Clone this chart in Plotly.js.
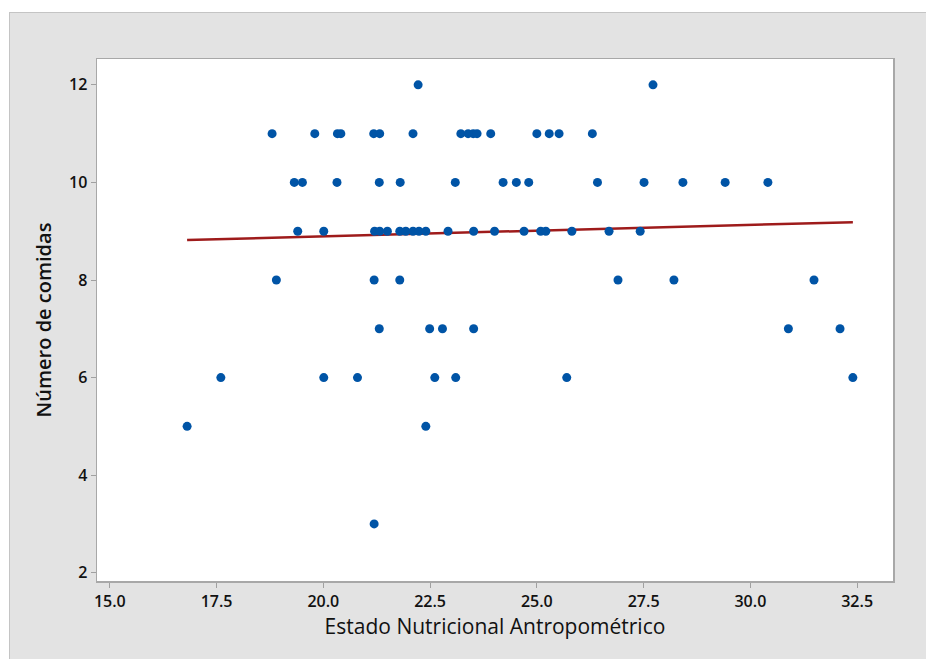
<!DOCTYPE html>
<html>
<head>
<meta charset="utf-8">
<script src="https://cdn.plot.ly/plotly-3.0.1.min.js"></script>
<style>
html,body{margin:0;padding:0;background:#ffffff;width:926px;height:659px;overflow:hidden;}
#frame{position:absolute;left:9px;top:12px;width:917px;height:647px;background:#e3e3e3;border-left:1px solid #c4c4c4;border-top:1px solid #c4c4c4;box-sizing:border-box;}
#chart{position:absolute;left:10px;top:13px;width:916px;height:646px;}
</style>
</head>
<body>
<div id="frame"></div>
<div id="chart"></div>
<script>
// Estado Nutricional Antropométrico (x) and Número de comidas (y)
const xVals = [
  21.19,
  16.81, 22.40,
  17.60, 20.01, 20.80, 22.61, 23.10, 25.70, 32.40,
  21.31, 22.49, 22.79, 23.52, 30.89, 32.10,
  18.90, 21.19, 21.79, 26.90, 28.21, 31.49,
  19.40, 20.01, 21.20, 21.32, 21.50, 21.79, 21.93, 22.10, 22.24, 22.40, 22.92, 23.52, 24.01, 24.70, 25.09, 25.21, 25.82, 26.69, 27.42,
  19.32, 19.51, 20.32, 21.31, 21.80, 23.09, 24.21, 24.52, 24.81, 26.42, 27.51, 28.42, 29.41, 30.41,
  18.80, 19.80, 20.33, 20.41, 21.18, 21.32, 22.10, 23.22, 23.39, 23.51, 23.60, 23.92, 25.00, 25.29, 25.52, 26.30,
  22.22, 27.72
];
const yVals = [
  3,
  5, 5,
  6, 6, 6, 6, 6, 6, 6,
  7, 7, 7, 7, 7, 7,
  8, 8, 8, 8, 8, 8,
  9, 9, 9, 9, 9, 9, 9, 9, 9, 9, 9, 9, 9, 9, 9, 9, 9, 9, 9,
  10, 10, 10, 10, 10, 10, 10, 10, 10, 10, 10, 10, 10, 10,
  11, 11, 11, 11, 11, 11, 11, 11, 11, 11, 11, 11, 11, 11, 11, 11,
  12, 12
];
// Fitted regression line
const fitX = [16.81, 32.40];
const fitY = [8.82, 9.185];

const xTickVals = [15.0, 17.5, 20.0, 22.5, 25.0, 27.5, 30.0, 32.5];
const xTickText = ['15.0', '17.5', '20.0', '22.5', '25.0', '27.5', '30.0', '32.5'];
const yTickVals = [2, 4, 6, 8, 10, 12];
const yTickText = ['2', '4', '6', '8', '10', '12'];

const fontFam = '"Open Sans", "Noto Sans", sans-serif';

const traces = [
  {
    x: fitX, y: fitY, type: 'scatter', mode: 'lines',
    line: {color: '#9e1b1b', width: 2.5},
    hoverinfo: 'skip', showlegend: false
  },
  {
    x: xVals, y: yVals, type: 'scatter', mode: 'markers',
    marker: {color: '#0054a6', size: 9, line: {width: 0}},
    showlegend: false
  }
];

const layout = {
  width: 916, height: 646,
  paper_bgcolor: '#e3e3e3',
  plot_bgcolor: '#ffffff',
  margin: {l: 87, r: 33, t: 46, b: 78},
  font: {family: fontFam, color: '#111111', size: 16},
  xaxis: {
    range: [14.70, 33.34],
    tickvals: xTickVals, ticktext: xTickText,
    ticks: 'outside', ticklen: 5, tickwidth: 1, tickcolor: '#a0a0a0',
    showline: true, linecolor: '#a8a8a8', linewidth: 1.5, mirror: true,
    showgrid: false, zeroline: false,
    tickfont: {family: fontFam, size: 16, color: '#111111', weight: 600},
    title: {text: 'Estado Nutricional Antropométrico', font: {family: fontFam, size: 21, color: '#111111', weight: 500}, standoff: 7}
  },
  yaxis: {
    range: [1.83, 12.53],
    tickvals: yTickVals, ticktext: yTickText,
    ticks: 'outside', ticklen: 5, tickwidth: 1, tickcolor: '#a0a0a0',
    showline: true, linecolor: '#a8a8a8', linewidth: 1.5, mirror: true,
    showgrid: false, zeroline: false,
    tickfont: {family: fontFam, size: 16, color: '#111111', weight: 600},
    title: {text: 'Número de comidas', font: {family: fontFam, size: 20, color: '#111111', weight: 600}, standoff: 12}
  }
};

Plotly.newPlot('chart', traces, layout, {displayModeBar: false, staticPlot: true});
</script>
</body>
</html>
